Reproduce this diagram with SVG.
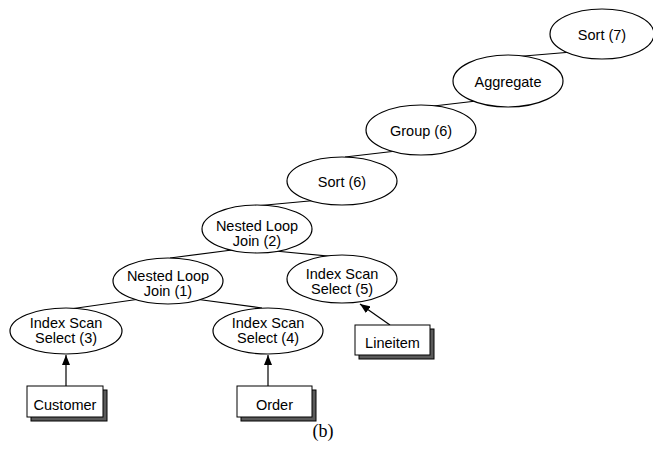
<svg xmlns="http://www.w3.org/2000/svg" width="653" height="456" viewBox="0 0 653 456">
<defs>
<style>
.n ellipse{fill:#fff;stroke:#000;stroke-width:1.2}
.t{font-family:"Liberation Sans",Arial,sans-serif;font-size:14.5px;fill:#000;text-anchor:middle}
.e line{stroke:#000;stroke-width:1.2}
.box{fill:#fff;stroke:#000;stroke-width:1}
.sh{fill:#5a5a5a;stroke:#000;stroke-width:1}
.cap{font-family:"Liberation Serif","Times New Roman",serif;font-size:18px;text-anchor:middle}
</style>
<marker id="ah" markerWidth="10" markerHeight="8" refX="10" refY="4" orient="auto" markerUnits="userSpaceOnUse">
<path d="M0,0 L10,4 L0,8 Z" fill="#000"/>
</marker>
</defs>
<rect width="653" height="456" fill="#fff"/>
<g id="edges" class="e">
<line x1="512" y1="57" x2="572" y2="52"/>
<line x1="425" y1="107" x2="485" y2="100"/>
<line x1="345" y1="157" x2="405" y2="150"/>
<line x1="255" y1="206" x2="320" y2="200"/>
<line x1="170" y1="258" x2="232" y2="250"/>
<line x1="275" y1="251" x2="338" y2="257"/>
<line x1="70" y1="309" x2="140" y2="299"/>
<line x1="195" y1="299" x2="262" y2="308"/>
<line x1="66" y1="386" x2="66" y2="355" marker-end="url(#ah)"/>
<line x1="268" y1="386" x2="268" y2="355" marker-end="url(#ah)"/>
<line x1="390" y1="325" x2="360" y2="304" marker-end="url(#ah)"/>
</g>
<g id="sort7" class="n"><ellipse cx="602" cy="34" rx="52" ry="25"/><text class="t" x="602" y="39.5">Sort (7)</text></g>
<g id="aggregate" class="n"><ellipse cx="508" cy="81" rx="55" ry="26"/><text class="t" x="508" y="86.5">Aggregate</text></g>
<g id="group6" class="n"><ellipse cx="421" cy="130" rx="55" ry="25"/><text class="t" x="421" y="135.5">Group (6)</text></g>
<g id="sort6" class="n"><ellipse cx="342" cy="181" rx="55" ry="24"/><text class="t" x="342" y="186.5">Sort (6)</text></g>
<g id="nlj2" class="n"><ellipse cx="257" cy="229" rx="55" ry="24"/><text class="t" x="257" y="231">Nested Loop</text><text class="t" x="257" y="246">Join (2)</text></g>
<g id="nlj1" class="n"><ellipse cx="168" cy="281" rx="55" ry="23"/><text class="t" x="168" y="281">Nested Loop</text><text class="t" x="168" y="296">Join (1)</text></g>
<g id="iss5" class="n"><ellipse cx="342" cy="279" rx="55" ry="24"/><text class="t" x="342" y="279">Index Scan</text><text class="t" x="342" y="294">Select (5)</text></g>
<g id="iss3" class="n"><ellipse cx="66" cy="331" rx="56" ry="23"/><text class="t" x="66" y="328">Index Scan</text><text class="t" x="66" y="343">Select (3)</text></g>
<g id="iss4" class="n"><ellipse cx="268" cy="331" rx="55" ry="23"/><text class="t" x="268" y="328">Index Scan</text><text class="t" x="268" y="343">Select (4)</text></g>
<g id="customer"><rect class="sh" x="31" y="390" width="76" height="31"/><rect class="box" x="27" y="386" width="76" height="31"/><text class="t" x="65" y="410">Customer</text></g>
<g id="order"><rect class="sh" x="241" y="390" width="75" height="31"/><rect class="box" x="237" y="386" width="75" height="31"/><text class="t" x="274.5" y="410">Order</text></g>
<g id="lineitem"><rect class="sh" x="359" y="329" width="75" height="30"/><rect class="box" x="355" y="325" width="75" height="30"/><text class="t" x="392.5" y="348">Lineitem</text></g>
<text class="cap" x="323" y="437">(b)</text>
</svg>
